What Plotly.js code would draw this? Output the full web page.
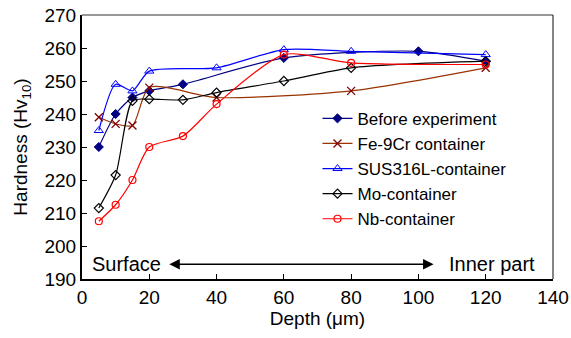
<!DOCTYPE html>
<html>
<head>
<meta charset="utf-8">
<script src="https://cdn.plot.ly/plotly-3.0.1.min.js"></script>
<style>html,body{margin:0;padding:0;background:#fff;}#chart{width:571px;height:338px;}</style>
</head>
<body>
<div id="chart"></div>
<script>
const seriesNames = ["Before experiment", "Fe-9Cr container", "SUS316L-container", "Mo-container", "Nb-container"];
const beforeX = [5, 10, 15, 20, 30, 60, 100, 120];
const beforeY = [230, 240, 245, 247, 249, 257, 259, 256];
const feX = [5, 10, 15, 20, 40, 80, 120];
const feY = [239, 237, 236.5, 248, 245, 247, 254];
const susX = [5, 10, 15, 20, 40, 60, 80, 120];
const susY = [235, 249, 247, 253, 254, 259.5, 259, 258];
const moX = [5, 10, 15, 20, 30, 40, 60, 80, 120];
const moY = [211.5, 221.5, 244, 244.5, 244.3, 246.5, 250, 254, 256];
const nbX = [5, 10, 15, 20, 30, 40, 60, 80, 120];
const nbY = [207.5, 212.5, 220, 230, 233.3, 243, 258, 255.5, 255];
const xTicks = [0, 20, 40, 60, 80, 100, 120, 140];
const yTicks = [190, 200, 210, 220, 230, 240, 250, 260, 270];

const F = "Arial, 'Liberation Sans', sans-serif";
function tr(name, x, y, lineColor, markerColor, symbol, size, lw) {
  return {
    type: 'scatter', mode: 'lines+markers', name: name, x: x, y: y,
    line: {color: lineColor, width: 1.2, shape: 'spline', smoothing: 0.7},
    marker: {color: markerColor, symbol: symbol, size: size, line: {color: markerColor, width: lw}},
    cliponaxis: false
  };
}
const data = [
  tr(seriesNames[0], beforeX, beforeY, '#000080', '#000080', 'diamond', 7, 1),
  tr(seriesNames[1], feX, feY, '#993300', '#800000', 'x-thin', 8, 1.3),
  tr(seriesNames[2], susX, susY, '#0000ff', '#0000ff', 'triangle-up-open', 8, 1),
  tr(seriesNames[3], moX, moY, '#000000', '#000000', 'diamond-open', 7, 1.2),
  tr(seriesNames[4], nbX, nbY, '#ff0000', '#ff0000', 'circle-open', 7, 1.2)
];
const layout = {
  width: 571, height: 338,
  margin: {l: 82, r: 18, t: 15, b: 59},
  paper_bgcolor: '#fff', plot_bgcolor: '#fff',
  font: {family: F, size: 19, color: '#000'},
  showlegend: true,
  legend: {x: 0.5, y: 0.675, xanchor: 'left', yanchor: 'top', bgcolor: 'rgba(0,0,0,0)',
           font: {family: F, size: 17, color: '#000'}, tracegroupgap: 0, itemwidth: 30},
  xaxis: {range: [0, 140], tickvals: xTicks, ticktext: xTicks.map(String), ticks: 'inside', ticklen: 5,
          tickcolor: '#000', showline: true, linecolor: '#000', linewidth: 2, showgrid: false, zeroline: false,
          tickfont: {family: F, size: 19}, title: {text: 'Depth (μm)', font: {family: F, size: 19}, standoff: 2}},
  yaxis: {range: [190, 270], tickvals: yTicks, ticktext: yTicks.map(String), ticks: 'inside', ticklen: 5,
          tickcolor: '#000', showline: true, linecolor: '#000', linewidth: 2, showgrid: false, zeroline: false,
          tickfont: {family: F, size: 19}, title: {text: 'Hardness (Hv<sub>10</sub>)', font: {family: F, size: 19}, standoff: 12}},
  shapes: [
    {type: 'line', xref: 'paper', yref: 'paper', x0: 0, x1: 1, y0: 1, y1: 1, line: {color: '#333', width: 1.2}},
    {type: 'line', xref: 'paper', yref: 'paper', x0: 1, x1: 1, y0: 0, y1: 1, line: {color: '#333', width: 1.2}}
  ],
  annotations: [
    {x: 104.5, y: 194.5, ax: 25.5, ay: 194.5, xref: 'x', yref: 'y', axref: 'x', ayref: 'y', text: '',
     showarrow: true, arrowhead: 2, startarrowhead: 2, arrowside: 'end+start', arrowsize: 1.4, arrowwidth: 1.5, arrowcolor: '#000'},
    {x: 13.2, y: 194.5, xref: 'x', yref: 'y', text: 'Surface', showarrow: false, font: {family: F, size: 20, color: '#000'}},
    {x: 122, y: 194.5, xref: 'x', yref: 'y', text: 'Inner part', showarrow: false, font: {family: F, size: 20, color: '#000'}}
  ]
};
Plotly.newPlot('chart', data, layout, {staticPlot: true, displayModeBar: false});
</script>
</body>
</html>
